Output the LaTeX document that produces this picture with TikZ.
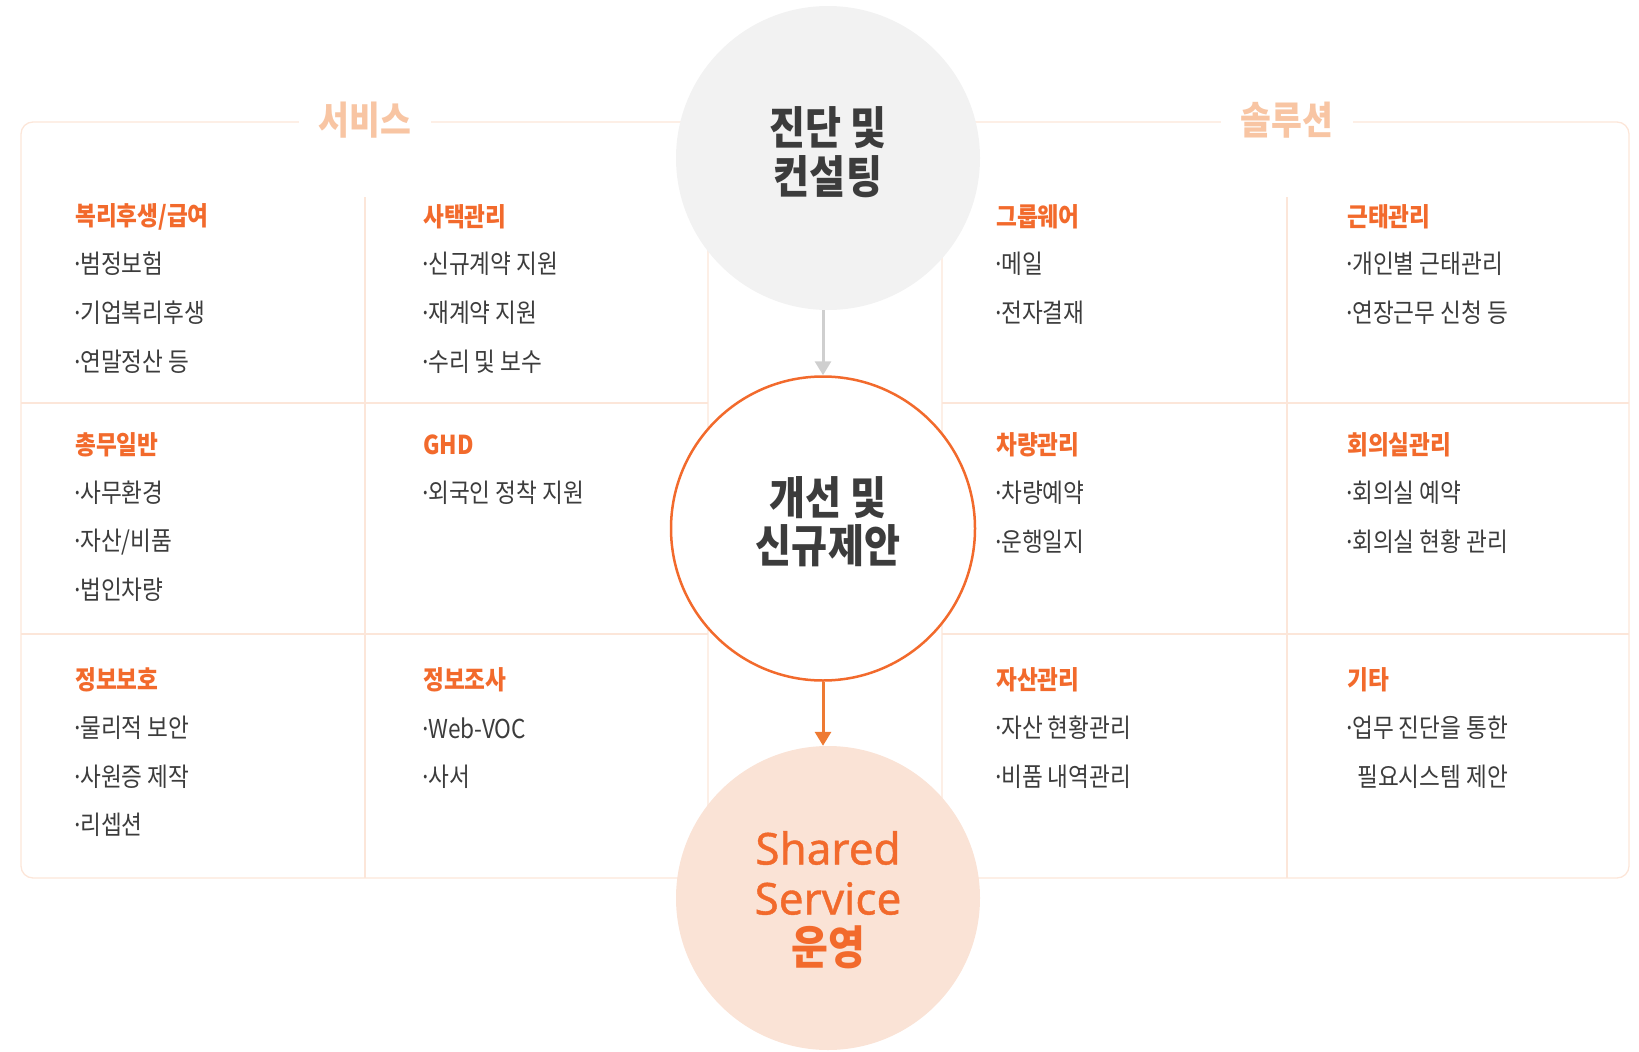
\documentclass[tikz,border=0pt]{standalone}
\usepackage{fontspec}
\usetikzlibrary{arrows.meta}
\newfontfamily\kr[FakeStretch=0.87]{Noto Sans CJK KR}
\newfontfamily\lat[FakeBold=0.9]{Noto Sans}
\newcommand{\dt}{\makebox[5pt][c]{·}}
\definecolor{lineC}{HTML}{FCE6D9}
\definecolor{titleC}{HTML}{F8C5A3}
\definecolor{orangeC}{HTML}{F26A2C}
\definecolor{darkC}{HTML}{3C3C3C}
\definecolor{grayC}{HTML}{F2F2F2}
\definecolor{peachC}{HTML}{FAE3D6}
\definecolor{garrowC}{HTML}{CFCFCF}
\definecolor{oarrowC}{HTML}{EE7A33}
\tikzset{
  panel/.style={draw=lineC, line width=1.3pt},
  sectitle/.style={fill=white, inner xsep=20pt, inner ysep=4pt, text=titleC, font=\kr\bfseries\fontsize{38.5}{38.5}\selectfont},
  cat/.style={anchor=west, inner sep=0pt, text=orangeC, font=\kr\bfseries\fontsize{26}{26}\selectfont},
  item/.style={anchor=west, inner sep=0pt, text=darkC, font=\kr\fontsize{26}{26}\selectfont},
  bigc/.style={circle, minimum size=304pt, inner sep=0pt},
  ctext/.style={align=center, inner sep=0pt, text=darkC, font=\kr\bfseries\fontsize{45}{48.5}\selectfont},
}
\begin{document}
\begin{tikzpicture}[x=1pt,y=-1pt]
\useasboundingbox (0,0) rectangle (1639,1052);
% panels
\draw[panel, rounded corners=12pt] (21,122) rectangle (708,878);
\draw[panel, rounded corners=12pt] (942,122) rectangle (1629,878);
\draw[panel] (365,197) -- (365,878);
\draw[panel] (21,403) -- (708,403);
\draw[panel] (21,634) -- (708,634);
\draw[panel] (1287,197) -- (1287,878);
\draw[panel] (942,403) -- (1629,403);
\draw[panel] (942,634) -- (1629,634);
\node[sectitle] (svc) at (365,120) {서비스};
\node[sectitle] (sol) at (1287,120) {솔루션};
% left column 1
\node[cat]  (l1c) at (75,217) {복리후생/급여};
\node[item] (l1a) at (75,264) {\dt 범정보험};
\node[item] (l1b) at (75,313) {\dt 기업복리후생};
\node[item] (l1d) at (75,362) {\dt 연말정산 등};
\node[cat]  (l2c) at (75,445) {총무일반};
\node[item] (l2a) at (75,493) {\dt 사무환경};
\node[item] (l2b) at (75,542) {\dt 자산/비품};
\node[item] (l2d) at (75,590) {\dt 법인차량};
\node[cat]  (l3c) at (75,680) {정보보호};
\node[item] (l3a) at (75,728) {\dt 물리적 보안};
\node[item] (l3b) at (75,777) {\dt 사원증 제작};
\node[item] (l3d) at (75,825) {\dt 리셉션};
% left column 2
\node[cat]  (m1c) at (423,217) {사택관리};
\node[item] (m1a) at (423,264) {\dt 신규계약 지원};
\node[item] (m1b) at (423,313) {\dt 재계약 지원};
\node[item] (m1d) at (423,362) {\dt 수리 및 보수};
\node[cat]  (m2c) at (423,445) {GHD};
\node[item] (m2a) at (423,493) {\dt 외국인 정착 지원};
\node[cat]  (m3c) at (423,680) {정보조사};
\node[item] (m3a) at (423,728) {\dt Web-VOC};
\node[item] (m3b) at (423,777) {\dt 사서};
% right column 1
\node[cat]  (r1c) at (996,217) {그룹웨어};
\node[item] (r1a) at (996,264) {\dt 메일};
\node[item] (r1b) at (996,313) {\dt 전자결재};
\node[cat]  (r2c) at (996,445) {차량관리};
\node[item] (r2a) at (996,493) {\dt 차량예약};
\node[item] (r2b) at (996,542) {\dt 운행일지};
\node[cat]  (r3c) at (996,680) {자산관리};
\node[item] (r3a) at (996,728) {\dt 자산 현황관리};
\node[item] (r3b) at (996,777) {\dt 비품 내역관리};
% right column 2
\node[cat]  (s1c) at (1347,217) {근태관리};
\node[item] (s1a) at (1347,264) {\dt 개인별 근태관리};
\node[item] (s1b) at (1347,313) {\dt 연장근무 신청 등};
\node[cat]  (s2c) at (1347,445) {회의실관리};
\node[item] (s2a) at (1347,493) {\dt 회의실 예약};
\node[item] (s2b) at (1347,542) {\dt 회의실 현황 관리};
\node[cat]  (s3c) at (1347,680) {기타};
\node[item] (s3a) at (1347,728) {\dt 업무 진단을 통한};
\node[item] (s3b) at (1347,777) {\hspace*{10pt}필요시스템 제안};
% circles
\node[bigc, fill=grayC] (c1) at (828,158) {};
\node[bigc, fill=white, draw=orangeC, line width=2.5pt] (c2) at (823,528.5) {};
\node[bigc, fill=peachC] (c3) at (828,898) {};
\node[ctext] (t1) at (828,152) {진단 및\\컨설팅};
\node[ctext] (t2) at (828,521.5) {개선 및\\신규제안};
\node[align=center, inner sep=0pt, text=orangeC, font=\lat\fontsize{44}{50}\selectfont] (t3) at (828,900)
  {Shared\\Service\\{\kr\bfseries\fontsize{46}{50}\selectfont 운영}};
% arrows
\draw[garrowC, line width=3pt, -{Triangle[width=16pt,length=14pt]}] (c2.north |- c1.south) -- (c2.north);
\draw[oarrowC, line width=3pt, -{Triangle[width=16pt,length=14pt]}] (c2.south) -- (c2.south |- c3.north);
\end{tikzpicture}
\end{document}
